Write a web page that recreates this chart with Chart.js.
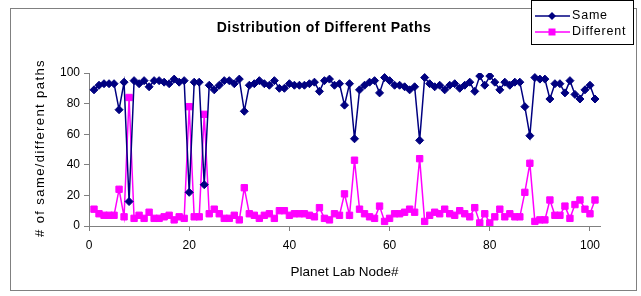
<!DOCTYPE html>
<html><head><meta charset="utf-8">
<script src="https://cdn.jsdelivr.net/npm/chart.js@4"></script>
<style>html,body{margin:0;padding:0;background:#fff}canvas{display:block}</style>
</head><body>
<canvas id="c" width="641" height="296"></canvas>
<script>
const nodes = [];
for (let i = 1; i <= 101; i++) nodes.push(i);
const same = [89,92,93,93,93,76,94,16,95,93,
95,91,95,95,94,93,96,94,95,22,
94,94,27,92,89,92,95,95,93,96,
75,92,93,95,93,92,95,90,90,93,
92,92,92,93,94,88,95,96,92,93,
79,93,57,89,92,94,95,87,97,95,
92,92,91,89,91,56,97,93,91,92,
89,92,93,90,92,94,88,98,92,98,
94,89,94,92,94,94,78,59,97,96,
96,83,93,93,87,95,86,83,89,92,
83];
const different = [11,8,7,7,7,24,6,84,5,7,
5,9,5,5,6,7,4,6,5,78,
6,6,73,8,11,8,5,5,7,4,
25,8,7,5,7,8,5,10,10,7,
8,8,8,7,6,12,5,4,8,7,
21,7,43,11,8,6,5,13,3,5,
8,8,9,11,9,44,3,7,9,8,
11,8,7,10,8,6,12,2,8,2,
6,11,6,8,6,6,22,41,3,4,
4,17,7,7,13,5,14,17,11,8,
17];
const xTickValues = [0,20,40,60,80,100];
const yTickValues = [0,20,40,60,80,100];
const chartTitle = 'Distribution of Different Paths';
const xTitle = 'Planet Lab Node#';
const yTitle = '# of same/different paths';
const seriesNames = ['Same', 'Different'];

const NAVY = '#000080', MAGENTA = '#FF00FF', GRAY = '#808080';
const FONT = '"Liberation Sans", Arial, sans-serif';

const decor = {
  id: 'decor',
  beforeDraw(chart) {
    const ctx = chart.ctx;
    ctx.save();
    ctx.fillStyle = '#fff';
    ctx.fillRect(0, 0, chart.width, chart.height);
    ctx.strokeStyle = GRAY;
    ctx.lineWidth = 1;
    ctx.strokeRect(10.5, 8.5, 626, 282);
    ctx.restore();
  },
  afterDraw(chart) {
    const ctx = chart.ctx;
    ctx.save();
    ctx.fillStyle = '#000';
    ctx.font = 'bold 14px ' + FONT;
    ctx.letterSpacing = '0.5px';
    ctx.textAlign = 'center';
    ctx.textBaseline = 'middle';
    ctx.fillText(chartTitle, 324, 28);
    // y axis title
    ctx.save();
    ctx.translate(40, 148);
    ctx.rotate(-Math.PI / 2);
    ctx.font = '13px ' + FONT;
    ctx.letterSpacing = '1.4px';
    ctx.fillText(yTitle, 0, 0);
    ctx.restore();
    // legend box
    ctx.fillStyle = '#fff';
    ctx.fillRect(531.5, 0.5, 102, 44);
    ctx.strokeStyle = '#000';
    ctx.lineWidth = 1;
    ctx.strokeRect(531.5, 0.5, 102, 44);
    const items = [
      {name: seriesNames[0], color: NAVY, y: 16, shape: 'diamond'},
      {name: seriesNames[1], color: MAGENTA, y: 32, shape: 'square'}
    ];
    items.forEach(it => {
      ctx.strokeStyle = it.color;
      ctx.lineWidth = 1.5;
      ctx.beginPath(); ctx.moveTo(535, it.y); ctx.lineTo(570, it.y); ctx.stroke();
      ctx.fillStyle = it.color;
      ctx.beginPath();
      if (it.shape === 'diamond') {
        ctx.moveTo(552, it.y - 4); ctx.lineTo(556, it.y); ctx.lineTo(552, it.y + 4); ctx.lineTo(548, it.y);
        ctx.closePath();
      } else {
        ctx.rect(548.5, it.y - 3.5, 7, 7);
      }
      ctx.fill();
      ctx.fillStyle = '#000';
      ctx.font = '12.5px ' + FONT;
      ctx.letterSpacing = '0.8px';
      ctx.textAlign = 'left';
      ctx.textBaseline = 'middle';
      ctx.fillText(it.name, 572, it.y);
    });
    ctx.restore();
  }
};

new Chart(document.getElementById('c'), {
  type: 'line',
  data: {
    datasets: [
      {
        label: seriesNames[0],
        data: nodes.map((n, i) => ({x: n, y: same[i]})),
        borderColor: NAVY, backgroundColor: NAVY,
        borderWidth: 1.5, pointStyle: 'rectRot', pointRadius: 4,
        pointBorderWidth: 1, pointBackgroundColor: NAVY, pointBorderColor: NAVY,
        tension: 0, order: 1
      },
      {
        label: seriesNames[1],
        data: nodes.map((n, i) => ({x: n, y: different[i]})),
        borderColor: MAGENTA, backgroundColor: MAGENTA,
        borderWidth: 1.5, pointStyle: 'rect', pointRadius: 4.5,
        pointBorderWidth: 1, pointBackgroundColor: MAGENTA, pointBorderColor: MAGENTA,
        tension: 0, order: 2
      }
    ]
  },
  options: {
    responsive: false,
    animation: false,
    devicePixelRatio: 1,
    layout: {padding: {left: 10, top: 73, right: 41, bottom: 10}},
    plugins: {legend: {display: false}, title: {display: false}, tooltip: {enabled: false}},
    scales: {
      x: {
        type: 'linear', min: 0, max: 102,
        afterBuildTicks(s) { s.ticks = xTickValues.map(v => ({value: v})); },
        afterFit(s) { s.height = 60; },
        grid: {display: true, drawOnChartArea: false, drawTicks: true, tickLength: 5, color: GRAY},
        border: {display: true, color: GRAY, width: 1},
        ticks: {color: '#000', font: {family: FONT, size: 12}, padding: 7, maxRotation: 0},
        title: {display: true, text: xTitle, color: '#000', font: {family: FONT, size: 13.5}, padding: {top: 4, bottom: 6}}
      },
      y: {
        type: 'linear', min: 0, max: 100,
        afterBuildTicks(s) { s.ticks = yTickValues.map(v => ({value: v})); },
        afterFit(s) { s.width = 79; },
        grid: {display: true, drawOnChartArea: false, drawTicks: true, tickLength: 5, color: GRAY},
        border: {display: true, color: GRAY, width: 1},
        ticks: {color: '#000', font: {family: FONT, size: 12}, padding: 4},
        title: {display: false, text: yTitle}
      }
    }
  },
  plugins: [decor]
});
</script>
</body></html>
